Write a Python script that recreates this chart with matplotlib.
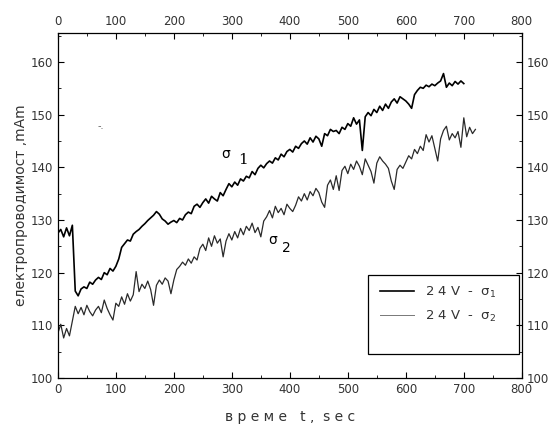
"""Електропроводимост vs време: two noisy traces on a boxed 0-800 s axis."""
import matplotlib

matplotlib.use("Agg")
import matplotlib.pyplot as plt
import numpy as np
from matplotlib.patches import Rectangle

STEP = 5  # seconds between read-off points

# sigma_1, 2.4 V (solid)
sigma1 = [
    127.5, 128.2, 126.8, 128.5, 127.0, 129.0, 116.5, 115.6, 116.9, 117.3,
    117.0, 118.2, 117.8, 118.6, 119.1, 118.7, 120.0, 119.6, 120.8, 120.3,
    121.2, 122.6, 124.8, 125.5, 126.2, 126.0, 127.3, 127.8, 128.2, 128.8,
    129.3, 129.9, 130.4, 130.9, 131.6, 131.1, 130.2, 129.8, 129.2, 129.6,
    129.9, 129.5, 130.3, 130.0, 131.0, 131.5, 131.2, 132.6, 133.0, 132.4,
    133.3, 134.0, 133.2, 134.5, 134.0, 133.6, 135.2, 134.6, 135.8, 136.9,
    136.3, 137.2, 136.6, 137.8, 137.4, 138.3, 138.0, 139.2, 138.6, 139.8,
    140.4, 139.9, 140.7, 141.2, 140.8, 141.8, 141.4, 142.5, 142.0, 143.0,
    143.4, 142.9, 144.0, 143.6, 144.5, 145.0, 144.4, 145.6, 144.8, 145.9,
    145.4, 144.0, 146.4, 146.0, 147.2, 146.8, 147.0, 146.4, 147.6, 147.2,
    148.3, 147.8, 149.4, 148.2, 149.0, 143.2, 149.6, 150.4, 149.8, 151.0,
    150.4, 151.6, 150.8, 152.0, 151.2, 152.4, 153.0, 152.2, 153.4, 153.0,
    152.6, 152.0, 151.2, 153.8, 154.6, 155.2, 155.0, 155.6, 155.3, 155.8,
    155.5, 156.0, 156.4, 157.8, 155.2, 156.0, 155.5, 156.3, 155.8, 156.4,
    155.9,
]

# sigma_2, 2.4 V (thin, grey)
sigma2 = [
    108.5, 110.2, 107.6, 109.4, 108.0, 110.8, 113.6, 112.2, 113.4, 112.0,
    113.8, 112.6, 111.8, 112.9, 113.6, 112.4, 114.8, 113.2, 112.0, 111.0,
    114.2, 113.6, 115.4, 114.0, 116.0, 114.6, 115.8, 120.2, 116.4, 117.8,
    117.0, 118.4, 116.8, 113.8, 117.6, 118.6, 117.8, 119.0, 118.4, 116.0,
    118.6, 120.6, 121.2, 122.0, 121.4, 122.6, 121.8, 123.0, 122.4, 124.6,
    125.4, 124.2, 126.6, 125.0, 127.0, 125.6, 126.4, 123.0, 126.0, 127.4,
    126.2, 127.8, 126.6, 128.4, 127.2, 128.8, 128.0, 129.4, 127.6, 128.6,
    126.8, 129.8, 130.6, 131.8, 130.4, 132.6, 131.4, 132.2, 131.0, 133.0,
    132.2, 131.6, 132.8, 134.4, 133.6, 135.0, 133.8, 135.4, 134.6, 136.0,
    135.2, 133.4, 132.4, 136.6, 137.6, 135.8, 138.4, 135.6, 139.4, 140.2,
    138.8, 140.6, 139.6, 141.2, 140.2, 138.6, 141.6, 140.4, 139.2, 137.0,
    140.8, 142.0, 141.2, 140.6, 139.8, 137.4, 135.8, 139.6, 140.4, 139.8,
    141.0, 142.2, 141.6, 143.4, 142.6, 144.0, 143.2, 146.2, 144.8, 146.0,
    143.6, 141.2, 145.4, 147.0, 147.8, 145.2, 146.4, 145.6, 146.8, 143.8,
    149.4, 145.8, 147.6, 146.4, 147.2,
]

t1 = np.arange(len(sigma1)) * STEP
t2 = np.arange(len(sigma2)) * STEP

TXT = "#333333"

fig = plt.figure(figsize=(5.51, 4.26), dpi=100)
ax = fig.add_axes([0.105, 0.1127, 0.842, 0.8098])

ax.plot(t1, sigma1, "-", color="black", lw=1.2, label="2 4 V  -  σ$_1$")
ax.plot(t2, sigma2, "-", color="#2a2a2a", lw=0.9, label="2 4 V  -  σ$_2$")

ax.set_xlim(0, 800)
ax.set_ylim(100, 165.5)
ax.set_xticks(range(0, 801, 100))
ax.set_xticks(range(50, 800, 100), minor=True)
ax.set_yticks(range(100, 161, 10))
ax.set_yticks(range(105, 166, 10), minor=True)
ax.tick_params(which="both", direction="in", top=True, right=True,
               labeltop=True, labelright=True, labelsize=8.5, labelcolor=TXT)
ax.tick_params(which="major", length=4)
ax.tick_params(which="minor", length=2)
for s in ax.spines.values():
    s.set_linewidth(0.9)

ax.set_xlabel("в р е м е   t ,  s e c", fontsize=10, color=TXT, labelpad=10)
ax.set_ylabel("електропроводимост ,mAm", fontsize=10, color=TXT, labelpad=2)

# curve labels
ax.text(282, 141.8, "σ", fontsize=10, color="black")
ax.text(310, 140.6, "1", fontsize=11, family="serif", color="black")
ax.text(362, 125.4, "σ", fontsize=10, color="black")
ax.text(386, 124.0, "2", fontsize=10, color="black")
ax.text(68, 147.2, "-.", fontsize=7, color="#666666")

# legend box (taller than its entries, as in the original)
ax.add_patch(Rectangle((0.668, 0.07), 0.325, 0.229, transform=ax.transAxes,
                       fill=False, edgecolor="black", lw=0.9))
leg = ax.legend(loc="upper left", bbox_to_anchor=(0.668, 0.305), frameon=False,
                fontsize=9.5, handlelength=2.6, labelspacing=0.7,
                labelcolor=TXT)
leg.get_lines()[1].set_color("#777777")
leg.get_lines()[1].set_linewidth(0.7)

fig.savefig("out.png", dpi=100)
